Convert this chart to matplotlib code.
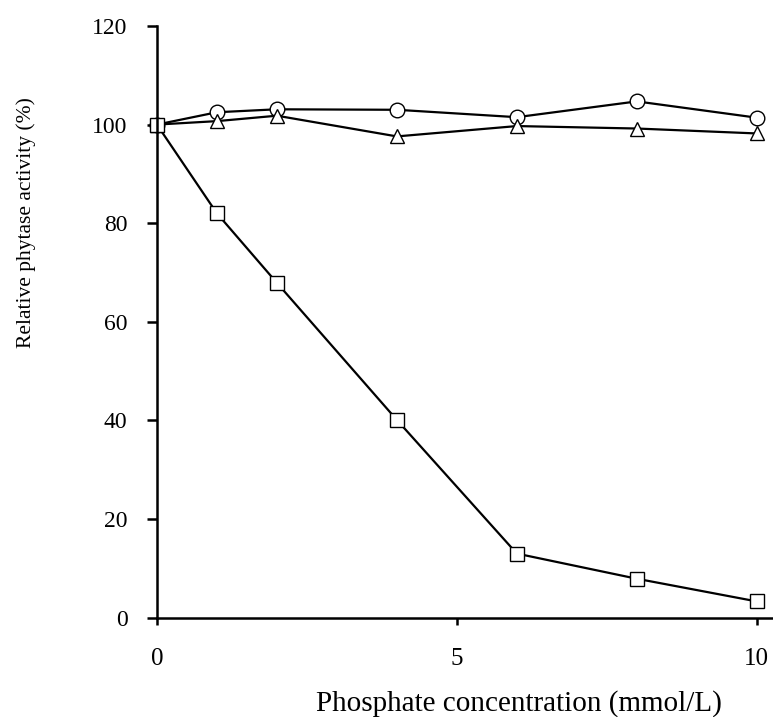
import matplotlib.pyplot as plt

# phosphate concentration (mmol/L)
conc = [0, 1, 2, 4, 6, 8, 10]
# relative activity (%) for each phytase
act_circle = [100, 102.5, 103.1, 103.0, 101.5, 104.7, 101.4]
act_triangle = [100, 100.7, 101.8, 97.6, 99.7, 99.2, 98.2]
act_square = [100, 82.0, 67.9, 40.1, 13.0, 7.9, 3.3]

plt.rcParams['font.family'] = ['Liberation Serif', 'DejaVu Serif']

fig = plt.figure(figsize=(7.73, 7.17), dpi=100)
ax = fig.add_axes([0.203, 0.1385, 0.797, 0.8253])

style = dict(color='black', linewidth=1.6, markersize=10.5, markerfacecolor='white',
             markeredgecolor='black', markeredgewidth=1.0, clip_on=False)
ax.plot(conc, act_circle, marker='o', **style)
ax.plot(conc, act_triangle, marker='^', **style)
ax.plot(conc, act_square, marker='s', **style)

ax.set_xlim(0, 10.27)
ax.set_ylim(0, 120)
ax.set_xticks([0, 5, 10])
ax.set_yticks(range(0, 121, 20))

for s in ['top', 'right']:
    ax.spines[s].set_visible(False)
for s in ['left', 'bottom']:
    ax.spines[s].set_linewidth(1.8)

ax.tick_params(axis='y', direction='out', length=7.2, width=1.8, pad=14, labelsize=17)
ax.tick_params(axis='x', direction='out', length=5, width=1.8, pad=16.5, labelsize=18)

ax.set_xlabel('Phosphate concentration (mmol/L)', fontsize=21)
ax.xaxis.set_label_coords(0.587, -0.123)
ax.set_ylabel('Relative phytase activity (%)', fontsize=15.5)
ax.yaxis.set_label_coords(-0.196, 0.668)

fig.savefig('out.png', dpi=100)
